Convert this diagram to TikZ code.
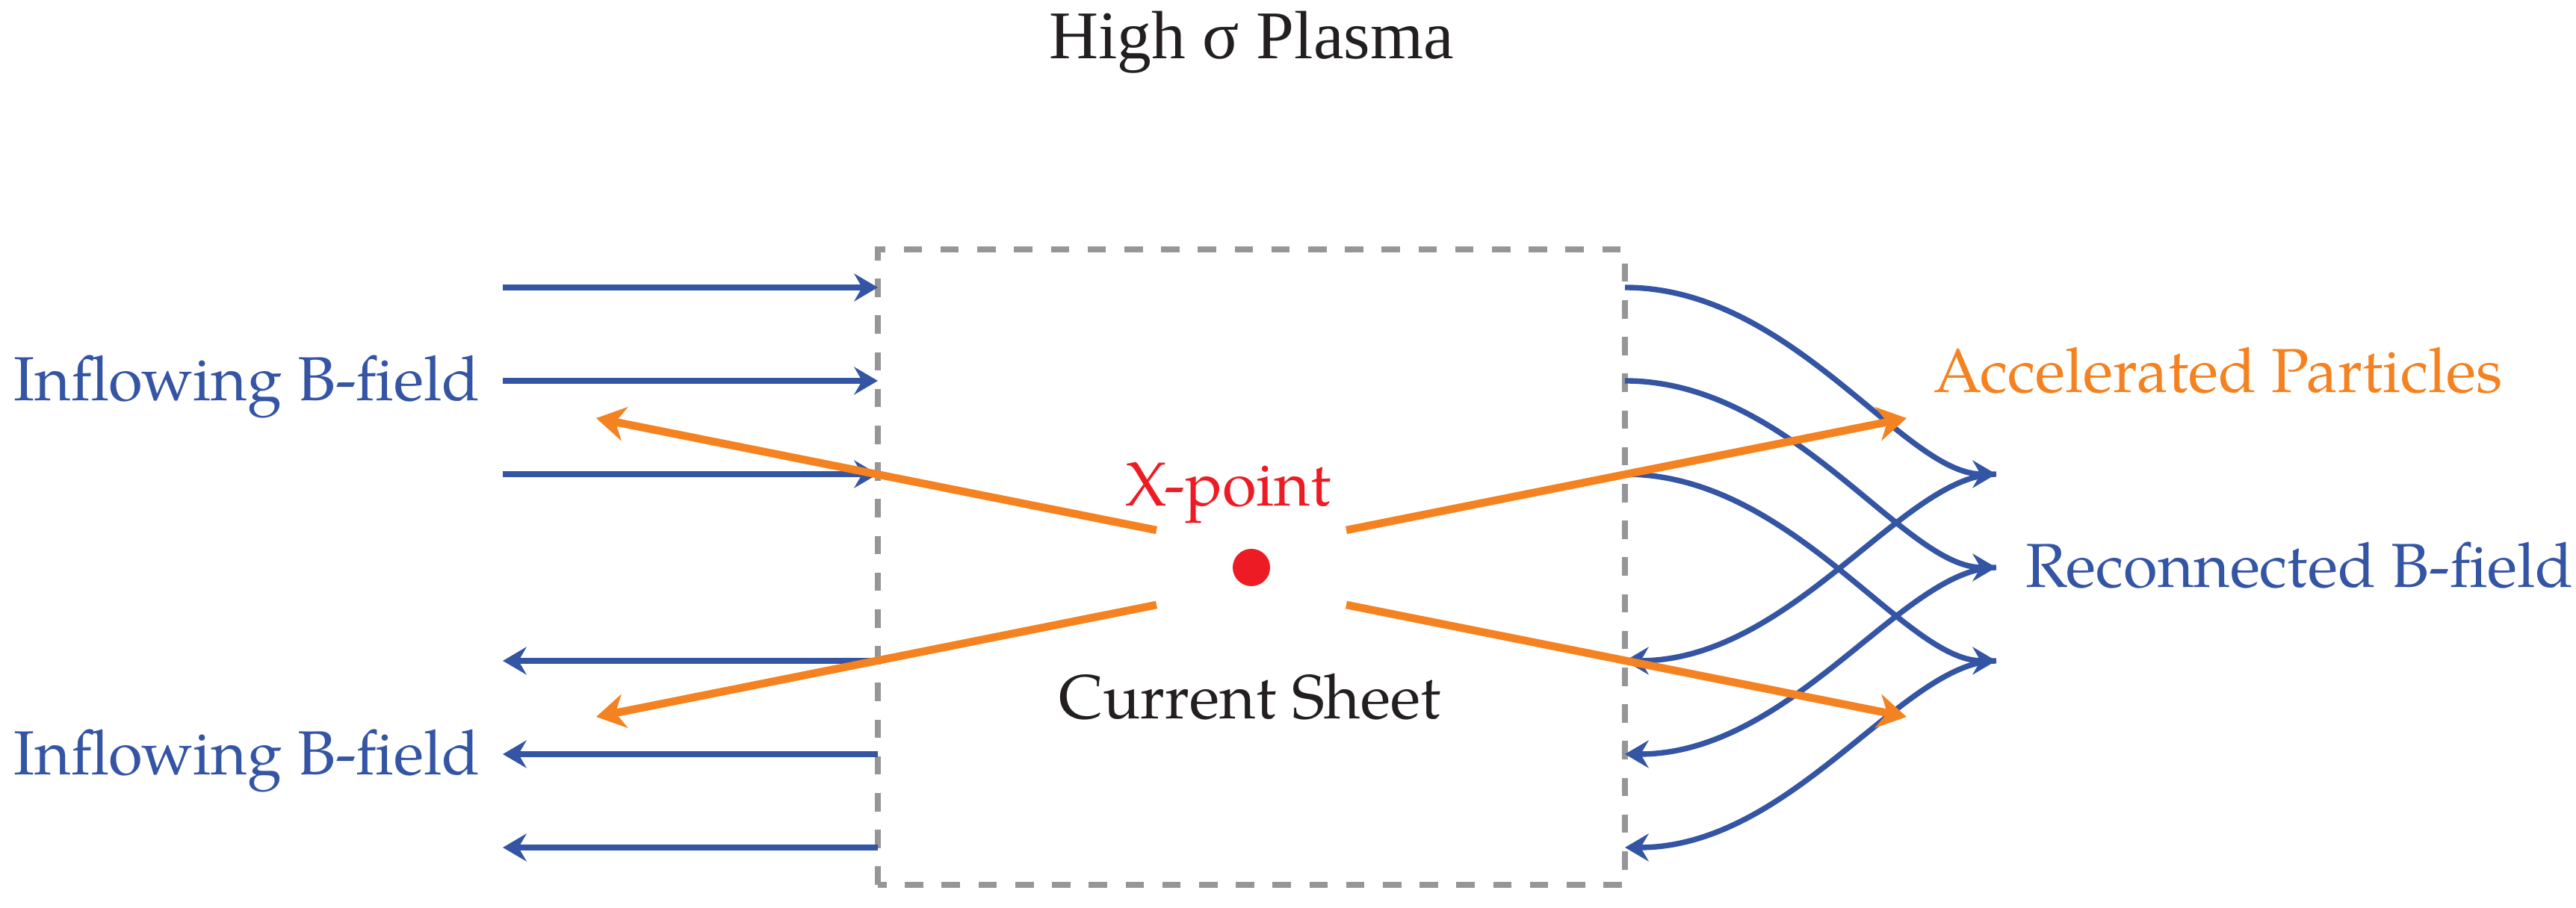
\documentclass[tikz,border=0pt]{standalone}
\usepackage{fontspec}
\setmainfont{TeX Gyre Pagella}
\newfontfamily\titlefont{Liberation Serif}
\usepackage{tikz}
\usetikzlibrary{arrows.meta}
\usepackage{color}

\definecolor{fieldblue}{RGB}{52,84,164}
\definecolor{partorange}{RGB}{245,130,32}
\definecolor{xred}{RGB}{237,28,36}
\definecolor{sheetgray}{RGB}{150,150,153}
\definecolor{textblack}{RGB}{35,31,32}

\tikzset{
  field/.style={draw=fieldblue, line width=2.1pt, -{Stealth[length=9pt, width=10.5pt, inset=3pt]}},
  particle/.style={draw=partorange, line width=3pt, -{Stealth[length=11pt, width=13pt, inset=3.5pt]}},
  sheet/.style={draw=sheetgray, line width=2.2pt, dash pattern=on 7pt off 7pt},
  lbl/.style={font=\fontsize{23.7}{28}\selectfont, inner sep=0pt},
}

\begin{document}
\begin{tikzpicture}
   % Sizes
   \pgfmathsetmacro{\gap}{1.25}
   \pgfmathsetmacro{\yc}{4.56}
   \useasboundingbox (0,0) rectangle (34.48,12.16);

   % vertices
   \coordinate (c) at (16.75,\yc);
   \coordinate (sw) at (11.75,0.31);
   \coordinate (ne) at (21.75,8.82);
   \foreach \i in {1,2,3} {
     \coordinate (tin\i) at (6.73, \yc+4*\gap-\i*\gap);
     \coordinate (tbox\i) at (11.75, \yc+4*\gap-\i*\gap);
     \coordinate (bbox\i) at (11.75, \yc-\i*\gap);
     \coordinate (bout\i) at (6.73, \yc-\i*\gap);
     \coordinate (rbox\i) at (21.75, \yc+4*\gap-\i*\gap);
     \coordinate (rbot\i) at (21.75, \yc-\i*\gap);
     \coordinate (rend\i) at (26.72, \yc+2*\gap-\i*\gap);
   }
   \coordinate (pul) at (15.48,5.06);
   \coordinate (pur) at (18.02,5.06);
   \coordinate (pll) at (15.48,4.06);
   \coordinate (plr) at (18.02,4.06);
   \coordinate (tul) at (7.98,6.56);
   \coordinate (tur) at (25.52,6.56);
   \coordinate (tll) at (7.98,2.56);
   \coordinate (tlr) at (25.52,2.56);

   % current sheet
   \draw[sheet] (sw) rectangle (ne);

   % field lines
   \foreach \i in {1,2,3} {
     \draw[field] (tin\i) -- (tbox\i);
     \draw[field] (bbox\i) -- (bout\i);
     \draw[field] (rbox\i) .. controls +(2.24,0) and +(-1.24,0) .. (rend\i);
     \draw[field] (rend\i) .. controls +(-1.24,0) and +(2.24,0) .. (rbot\i);
   }

   % particles
   \draw[particle] (pul) -- (tul);
   \draw[particle] (pur) -- (tur);
   \draw[particle] (pll) -- (tll);
   \draw[particle] (plr) -- (tlr);
   \node[circle, fill=xred, minimum size=0.5cm, inner sep=0pt] (xpt) at (c) {};

   % labels
   \node[lbl, font={\titlefont\fontsize{26}{30}\selectfont}, text=textblack, anchor=base] (title) at (16.75,11.37) {High σ Plasma};
   \node[lbl, text=fieldblue, anchor=base west] (intop) at (0.18,6.79) {Inflowing B-field};
   \node[lbl, text=fieldblue, anchor=base west] (inbot) at (0.18,1.78) {Inflowing B-field};
   \node[lbl, text=partorange, anchor=base west] (accel) at (25.88,6.9) {Accelerated Particles};
   \node[lbl, text=fieldblue, anchor=base west] (recon) at (27.11,4.29) {Reconnected B-field};
   \node[lbl, text=xred, anchor=base] (xlabel) at (16.44,5.38) {X-point};
   \node[lbl, text=textblack, anchor=base] (sheetlabel) at (16.73,2.53) {Current Sheet};
\end{tikzpicture}
\end{document}
